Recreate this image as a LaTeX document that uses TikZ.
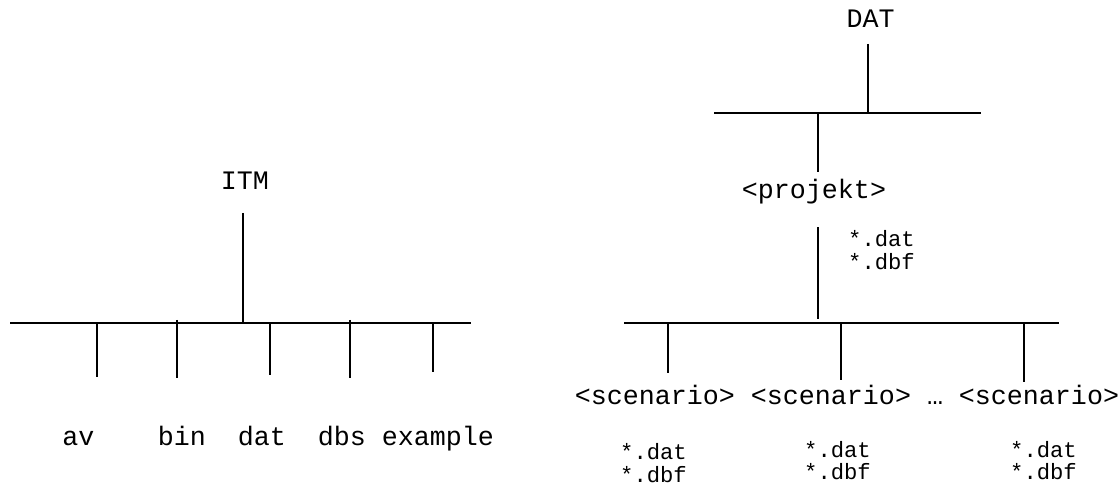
\documentclass[tikz,border=0pt]{standalone}
\usepackage{fontspec}
\setmainfont{Liberation Mono}
\begin{document}
\begin{tikzpicture}[x=1pt,y=-1pt,
  ln/.style={line width=1.8pt, black},
  big/.style={inner sep=0pt, anchor=base, font=\fontsize{26.67}{32}\selectfont},
  small/.style={inner sep=0pt, anchor=base west, font=\fontsize{22.2}{22.7}\selectfont},
]
\useasboundingbox (0,0) rectangle (1120,486);
\newcommand{\files}{\vtop{\baselineskip=22.7pt\hbox{*.dat}\hbox{*.dbf}}}

% ---------- left tree ----------
\node[big] (itm) at (245,190) {ITM};
\coordinate (itmtop) at (243,213);
\coordinate (itmj) at (243,323.3);
\coordinate (lbarL) at (10,323.3);
\coordinate (lbarR) at (471,323.3);
\draw[ln] (itmtop) -- (itmj);
\draw[ln] (lbarL) -- (lbarR);

\node[big] (av) at (78.5,446) {av};
\node[big] (bin) at (182,446) {bin};
\node[big] (dat) at (262,446) {dat};
\node[big] (dbs) at (342,446) {dbs};
\node[big] (example) at (438,446) {example};

\coordinate (avt) at (96.7,323.3);  \coordinate (avb) at (96.7,377);
\coordinate (bint) at (176.7,320);  \coordinate (binb) at (176.7,378);
\coordinate (datt) at (270,323.3);  \coordinate (datb) at (270,375);
\coordinate (dbst) at (350,320);    \coordinate (dbsb) at (350,378);
\coordinate (ext) at (432.7,323.3); \coordinate (exb) at (432.7,372);
\draw[ln] (avt) -- (avb);
\draw[ln] (bint) -- (binb);
\draw[ln] (datt) -- (datb);
\draw[ln] (dbst) -- (dbsb);
\draw[ln] (ext) -- (exb);

% ---------- right tree ----------
\node[big] (DAT) at (870.5,28) {DAT};
\coordinate (DATtop) at (868.3,44);
\coordinate (DATj) at (868.3,113.3);
\coordinate (rbarL) at (714,113.3);
\coordinate (rbarR) at (981,113.3);
\coordinate (projt) at (818.3,113.3);
\coordinate (projb) at (818.3,171.7);
\draw[ln] (DATtop) -- (DATj);
\draw[ln] (rbarL) -- (rbarR);
\draw[ln] (projt) -- (projb);

\node[big] (proj) at (814,199) {<projekt>};
\node[small] (projf) at (848,246.7) {\files};
\coordinate (projdt) at (818.3,227.3);
\coordinate (projdb) at (818.3,319.3);
\draw[ln] (projdt) -- (projdb);

\coordinate (sbarL) at (624.3,323.3);
\coordinate (sbarR) at (1059,323.3);
\draw[ln] (sbarL) -- (sbarR);

\node[big] (sc1) at (655,405) {<scenario>};
\node[big] (sc2) at (831,405) {<scenario>};
\node[big] (dots) at (935,405) {…};
\node[big] (sc3) at (1039,405) {<scenario>};

\coordinate (s1t) at (668.3,323.3); \coordinate (s1b) at (668.3,373.3);
\coordinate (s2t) at (840.7,323.3); \coordinate (s2b) at (840.7,380);
\coordinate (s3t) at (1024.3,323.3); \coordinate (s3b) at (1024.3,381.7);
\draw[ln] (s1t) -- (s1b);
\draw[ln] (s2t) -- (s2b);
\draw[ln] (s3t) -- (s3b);

\node[small] (f1) at (620,460) {\files};
\node[small] (f2) at (804,457) {\files};
\node[small] (f3) at (1010,457) {\files};
\end{tikzpicture}
\end{document}
